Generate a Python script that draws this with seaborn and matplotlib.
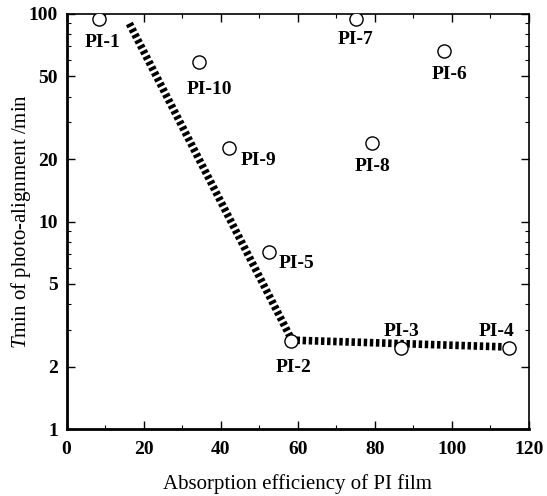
import numpy as np
import pandas as pd
import matplotlib
matplotlib.use("Agg")
import matplotlib.pyplot as plt
import seaborn as sns
from matplotlib.ticker import FixedLocator, NullFormatter, MultipleLocator

# ── data ────────────────────────────────────────────────────────────────────
labels     = ["PI-1", "PI-2", "PI-3", "PI-4", "PI-5",
              "PI-6", "PI-7", "PI-8", "PI-9", "PI-10"]
absorption = [8.5, 58.3, 86.8, 114.8, 52.6, 97.9, 75.1, 79.3, 42.2, 34.5]
tmin       = [94.6, 2.66, 2.46, 2.46, 7.1, 66.2, 94.6, 23.8, 22.5, 58.6]

# label offsets (points) relative to each marker
label_dx = [2, 2, 0, -9, 20, 4, 0, 0, 21, 7]
label_dy = [-17, -19, 12, 12, -8, -17, -15, -17, -9, -20]

trend_x = [16.3, 58.5, 115.8]
trend_y = [90.0, 2.68, 2.48]

sns.set_theme(style="ticks", rc={
    "text.color": "black", "axes.labelcolor": "black",
    "axes.edgecolor": "black", "xtick.color": "black", "ytick.color": "black",
})
plt.rcParams["font.family"] = ["Liberation Serif", "DejaVu Serif"]
plt.rcParams["mathtext.fontset"] = "custom"
plt.rcParams["mathtext.it"] = "Liberation Serif:italic"
plt.rcParams["mathtext.rm"] = "Liberation Serif"

df = pd.DataFrame({"x": absorption, "y": tmin, "label": labels})

fig = plt.figure(figsize=(5.47, 4.96), dpi=100)
ax = fig.add_axes([66.5 / 547, 1 - 429 / 496, (529 - 66.5) / 547, (429 - 14) / 496])

sns.lineplot(x=trend_x, y=trend_y, ax=ax, color="black", lw=5.5,
             linestyle=(0, (0.45, 0.35)), sort=False, zorder=2)
sns.scatterplot(data=df, x="x", y="y", ax=ax, marker="o", s=90,
                facecolor="white", edgecolor="black", linewidth=1.0, zorder=3)

for lab, x, y, dx, dy in zip(labels, absorption, tmin, label_dx, label_dy):
    ax.annotate(lab, (x, y), xytext=(dx, dy), textcoords="offset points",
                ha="center", va="center", fontsize=14, fontweight="bold")

ax.set_yscale("log")
ax.set_xlim(0, 120)
ax.set_ylim(1, 100)
ax.xaxis.set_major_locator(MultipleLocator(20))
ax.xaxis.set_minor_locator(MultipleLocator(10))
ax.yaxis.set_major_locator(FixedLocator([1, 2, 5, 10, 20, 50, 100]))
ax.yaxis.set_major_formatter(plt.FuncFormatter(lambda v, p: f"{v:g}"))
ax.yaxis.set_minor_formatter(NullFormatter())

ax.tick_params(which="both", direction="in", top=True, right=True)
ax.tick_params(which="major", length=6, width=1.0, labelsize=14)
ax.tick_params(axis="x", which="major", pad=9)
ax.tick_params(axis="y", which="major", pad=6)
ax.tick_params(which="minor", length=3, width=0.8)
for t in ax.get_xticklabels() + ax.get_yticklabels():
    t.set_fontweight("bold")

for side in ["left", "bottom"]:
    ax.spines[side].set_linewidth(2.0)
for side in ["top", "right"]:
    ax.spines[side].set_linewidth(1.2)

ax.set_xlabel("Absorption efficiency of PI film", fontsize=15)
ax.set_ylabel("$\\mathit{T}$min of photo-alignment /min", fontsize=15)
ax.xaxis.set_label_coords(0.5, -0.108)
ax.yaxis.set_label_coords(-0.072, 0.5)

fig.savefig("out.png", dpi=100)
